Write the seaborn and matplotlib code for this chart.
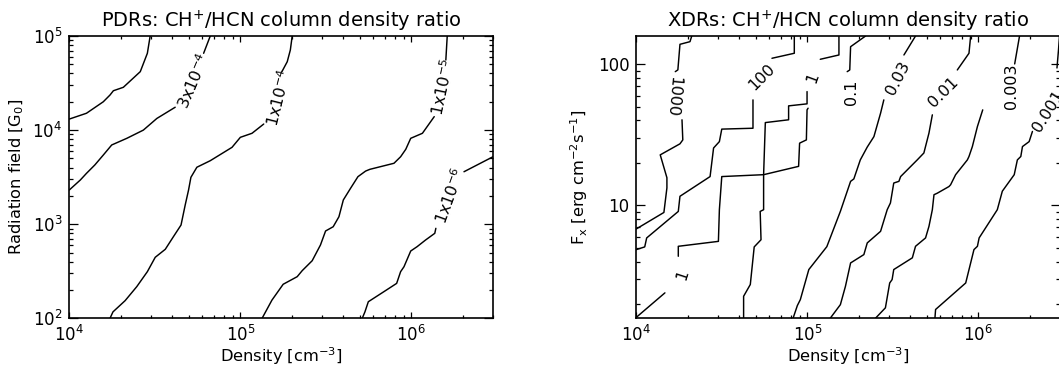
import numpy as np
import pandas as pd
import matplotlib
matplotlib.use("Agg")
import matplotlib.pyplot as plt
import matplotlib.ticker as mticker
import seaborn as sns

# ---------------- PDR panel: contour lines ----------------
# density [cm^-3] and radiation field [G0]; each level may be split by its label
pdr_top_n = [2.97e4, 2.86e4, 2.60e4, 2.07e4, 1.81e4, 1.73e4, 1.58e4, 1.26e4, 1.0e4]
pdr_top_g = [1e5, 6.55e4, 4.18e4, 2.85e4, 2.62e4, 2.36e4, 2.00e4, 1.51e4, 1.31e4]

pdr_3e4_lo_n = [1.0e4, 1.16e4, 1.26e4, 1.41e4, 1.58e4, 1.77e4, 2.17e4, 2.71e4, 3.25e4, 4.16e4]
pdr_3e4_lo_g = [2.31e3, 2.95e3, 3.47e3, 4.26e3, 5.43e3, 6.95e3, 8.18e3, 1.0e4, 1.33e4, 1.75e4]
pdr_3e4_hi_n = [6.10e4, 6.67e4]
pdr_3e4_hi_g = [6.55e4, 1e5]

pdr_1e4_lo_n = [1.73e4, 1.80e4, 2.12e4, 2.48e4, 2.86e4, 3.18e4, 3.64e4, 4.06e4, 4.50e4,
                4.76e4, 4.98e4, 5.14e4, 5.57e4, 6.67e4, 8.94e4, 1.0e5, 1.17e5, 1.37e5]
pdr_1e4_lo_g = [100, 117, 154, 217, 313, 445, 541, 736, 980,
                1.60e3, 2.31e3, 3.15e3, 4.03e3, 4.73e3, 6.56e3, 8.38e3, 9.25e3, 1.16e4]
pdr_1e4_hi_n = [1.75e5, 1.88e5, 1.96e5, 2.01e5]
pdr_1e4_hi_g = [4.18e4, 5.33e4, 7.10e4, 1e5]

pdr_1e5_lo_n = [1.34e5, 1.53e5, 1.78e5, 2.15e5, 2.30e5, 2.63e5, 2.94e5, 3.15e5, 3.49e5, 3.77e5,
                4.0e5, 4.41e5, 4.87e5, 5.40e5, 5.72e5, 7.91e5, 8.65e5, 9.27e5, 9.91e5, 1.16e6, 1.36e6]
pdr_1e5_lo_g = [100, 156, 230, 277, 321, 409, 601, 847, 940, 1.20e3,
                1.81e3, 2.41e3, 3.20e3, 3.67e3, 3.83e3, 4.44e3, 5.21e3, 6.25e3, 8.18e3, 9.25e3, 1.39e4]
pdr_1e5_hi_n = [1.59e6, 1.62e6]
pdr_1e5_hi_g = [5.56e4, 1e5]

pdr_1e6_lo_n = [5.16e5, 5.35e5, 5.60e5, 6.91e5, 8.20e5, 8.65e5, 9.05e5, 9.91e5, 1.08e6, 1.21e6, 1.37e6, 1.39e6]
pdr_1e6_lo_g = [100, 117, 150, 192, 235, 313, 353, 519, 577, 679, 800, 904]
pdr_1e6_hi_n = [2.03e6, 3.0e6]
pdr_1e6_hi_g = [3.61e3, 5.21e3]

pdr_label_text = ["3x10$^{-4}$", "1x10$^{-4}$", "1x10$^{-5}$", "1x10$^{-6}$"]
pdr_label_n = [5.31e4, 1.68e5, 1.52e6, 1.68e6]
pdr_label_g = [3.32e4, 2.22e4, 2.87e4, 2.0e3]
pdr_label_rot = [67, 76, 78, 70]

# ---------------- XDR panel: density [cm^-3] and F_X [erg cm^-2 s^-1] ----------------
xdr_1000_a_n = [2.11e4, 2.06e4, 1.80e4, 1.75e4, 1.69e4]
xdr_1000_a_f = [158.5, 144.5, 138.4, 91.2, 88.6]
xdr_1000_b_n = [1.85e4, 1.87e4, 1.80e4, 1.38e4, 1.51e4, 1.51e4, 1.45e4, 1.0e4]
xdr_1000_b_f = [40.4, 29.1, 27.3, 22.8, 15.7, 13.3, 8.91, 6.81]

xdr_100_a_n = [8.39e4, 8.39e4, 6.21e4]
xdr_100_a_f = [158.5, 119.6, 110.2]
xdr_100_b_n = [4.81e4, 4.81e4, 3.16e4, 3.06e4, 2.83e4, 2.70e4, 1.80e4, 1.76e4, 1.15e4, 1.12e4, 1.0e4]
xdr_100_b_f = [55.9, 35.2, 34.7, 28.3, 25.5, 16.0, 11.6, 9.06, 5.88, 5.08, 4.86]

xdr_1_a_n = [1.53e5, 1.53e5, 1.19e5]
xdr_1_a_f = [158.5, 116.3, 108.4]
xdr_1_b_n = [9.96e4, 9.96e4, 7.77e4, 7.77e4, 5.68e4, 5.55e4, 5.55e4, 5.30e4, 5.36e4, 4.89e4, 4.64e4, 4.24e4, 4.24e4]
xdr_1_b_f = [64.0, 52.4, 50.7, 40.4, 38.6, 16.5, 9.32, 9.06, 5.71, 5.08, 2.75, 2.27, 1.585]
xdr_1_c_n = [1.01e5, 9.96e4, 9.87e4, 9.01e4, 8.89e4, 5.55e4, 3.16e4, 3.06e4, 3.02e4, 1.76e4, 1.76e4]
xdr_1_c_f = [48.8, 47.5, 29.1, 27.6, 18.9, 16.5, 16.0, 9.32, 5.56, 5.13, 4.36]
xdr_1_d_n = [1.47e4, 1.0e4]
xdr_1_d_f = [2.40, 1.61]

xdr_01_a_n = [2.19e5, 1.79e5, 1.77e5, 1.71e5]
xdr_01_a_f = [158.5, 133.1, 91.1, 88.6]

xdr_003_a_n = [4.29e5, 3.67e5]
xdr_003_a_f = [158.5, 116.3]
xdr_003_b_n = [2.80e5, 2.68e5, 2.45e5, 2.24e5, 2.04e5, 1.87e5, 1.79e5, 1.56e5, 1.30e5, 1.02e5, 9.10e4, 8.74e4, 8.25e4]
xdr_003_b_f = [55.9, 45.0, 30.7, 25.9, 21.0, 15.4, 14.8, 9.07, 5.10, 3.51, 2.15, 1.95, 1.585]

xdr_001_a_n = [9.01e5, 8.81e5, 7.53e5]
xdr_001_a_f = [158.5, 119.6, 91.1]
xdr_001_b_n = [5.38e5, 5.14e5, 4.80e5, 4.39e5, 3.51e5, 3.43e5, 3.20e5, 3.06e5, 2.93e5, 2.68e5,
               2.24e5, 2.14e5, 1.79e5, 1.67e5, 1.56e5, 1.36e5]
xdr_001_b_f = [43.8, 32.5, 23.5, 21.0, 16.0, 14.8, 14.4, 10.4, 9.32, 6.55,
               5.42, 4.48, 3.91, 2.67, 1.98, 1.585]

xdr_0003_a_n = [1.74e6, 1.63e6]
xdr_0003_a_f = [158.5, 100.5]
xdr_0003_b_n = [1.06e6, 9.87e5, 9.22e5, 8.81e5, 8.62e5, 7.36e5, 6.88e5, 6.73e5, 5.75e5, 5.50e5,
                5.38e5, 5.14e5, 4.91e5, 4.29e5, 4.11e5, 3.20e5, 3.13e5, 3.03e5, 2.86e5, 2.50e5]
xdr_0003_b_f = [47.5, 36.2, 26.1, 22.2, 21.0, 16.5, 14.0, 13.6, 12.2, 11.9,
                9.32, 7.10, 5.88, 5.13, 4.25, 3.51, 2.98, 2.82, 1.88, 1.585]

xdr_0001_a_n = [2.98e6, 2.94e6, 2.88e6]
xdr_0001_a_f = [158.5, 126.2, 94.1]
xdr_0001_b_n = [2.07e6, 1.98e6, 1.81e6, 1.77e6, 1.69e6, 1.62e6, 1.38e6, 1.29e6, 1.01e6, 9.87e5,
                9.42e5, 8.43e5, 5.62e5, 5.57e5]
xdr_0001_b_f = [33.4, 28.3, 26.1, 22.2, 21.0, 16.5, 12.6, 9.32, 5.88, 5.13,
                4.86, 2.82, 1.83, 1.585]

xdr_label_text = ["1000", "100", "1", "0.1", "0.03", "0.01", "0.003", "0.001", "1"]
xdr_label_n = [1.64e4, 5.43e4, 1.08e5, 1.80e5, 3.37e5, 6.26e5, 1.57e6, 2.57e6, 1.87e4]
xdr_label_f = [58.7, 81.3, 80.0, 63.7, 80.0, 63.2, 69.7, 46.5, 3.21]
xdr_label_rot = [-95, 45, 70, 90, 63, 45, 90, 58, 72]

xticks_major = [1e4, 1e5, 1e6]
pdr_yticks_major = [1e2, 1e3, 1e4, 1e5]
xdr_yticks_major = [10, 100]


def pieces_frame(pieces, xname, yname):
    frames = []
    for i, (xs, ys) in enumerate(pieces):
        frames.append(pd.DataFrame({xname: xs, yname: ys, "piece": i}))
    return pd.concat(frames, ignore_index=True)


pdr_df = pieces_frame([
    (pdr_top_n, pdr_top_g),
    (pdr_3e4_lo_n, pdr_3e4_lo_g), (pdr_3e4_hi_n, pdr_3e4_hi_g),
    (pdr_1e4_lo_n, pdr_1e4_lo_g), (pdr_1e4_hi_n, pdr_1e4_hi_g),
    (pdr_1e5_lo_n, pdr_1e5_lo_g), (pdr_1e5_hi_n, pdr_1e5_hi_g),
    (pdr_1e6_lo_n, pdr_1e6_lo_g), (pdr_1e6_hi_n, pdr_1e6_hi_g),
], "density", "field")

xdr_df = pieces_frame([
    (xdr_1000_a_n, xdr_1000_a_f), (xdr_1000_b_n, xdr_1000_b_f),
    (xdr_100_a_n, xdr_100_a_f), (xdr_100_b_n, xdr_100_b_f),
    (xdr_1_a_n, xdr_1_a_f), (xdr_1_b_n, xdr_1_b_f), (xdr_1_c_n, xdr_1_c_f), (xdr_1_d_n, xdr_1_d_f),
    (xdr_01_a_n, xdr_01_a_f),
    (xdr_003_a_n, xdr_003_a_f), (xdr_003_b_n, xdr_003_b_f),
    (xdr_001_a_n, xdr_001_a_f), (xdr_001_b_n, xdr_001_b_f),
    (xdr_0003_a_n, xdr_0003_a_f), (xdr_0003_b_n, xdr_0003_b_f),
    (xdr_0001_a_n, xdr_0001_a_f), (xdr_0001_b_n, xdr_0001_b_f),
], "density", "flux")

# ---------------- style ----------------
sns.set_theme(style="ticks", rc={
    "axes.edgecolor": "black", "axes.labelcolor": "black", "text.color": "black",
    "xtick.color": "black", "ytick.color": "black", "axes.linewidth": 1.2,
})
plt.rcParams["font.family"] = ["DejaVu Sans"]
plt.rcParams["mathtext.fontset"] = "dejavusans"

W, H = 1059, 372
fig = plt.figure(figsize=(W / 100, H / 100), dpi=100)
ax1 = fig.add_axes([69.3 / W, (H - 318.3) / H, 423.7 / W, 282.3 / H])
ax2 = fig.add_axes([636.3 / W, (H - 318.3) / H, 423.7 / W, 282.3 / H])

TICK_FS = 12
LABEL_FS = 11.7
TITLE_FS = 14
CLAB_FS = 11.5


def log_sup(v, pos):
    return r"10$^{%d}$" % int(round(np.log10(v)))


def style_axes(ax, ylim, yticks, yfmt):
    ax.set_xscale("log")
    ax.set_yscale("log")
    ax.set_xlim(1e4, 3e6)
    ax.set_ylim(*ylim)
    ax.xaxis.set_major_locator(mticker.FixedLocator(xticks_major))
    ax.xaxis.set_minor_locator(mticker.LogLocator(base=10, subs=np.arange(2, 10), numticks=20))
    ax.yaxis.set_major_locator(mticker.FixedLocator(yticks))
    ax.yaxis.set_minor_locator(mticker.LogLocator(base=10, subs=np.arange(2, 10), numticks=20))
    ax.xaxis.set_major_formatter(mticker.FuncFormatter(log_sup))
    ax.yaxis.set_major_formatter(yfmt)
    ax.xaxis.set_minor_formatter(mticker.NullFormatter())
    ax.yaxis.set_minor_formatter(mticker.NullFormatter())
    ax.tick_params(which="both", direction="in", top=True, right=True, width=0.9,
                   labelsize=TICK_FS)
    ax.tick_params(axis="x", which="major", length=4.2, pad=5)
    ax.tick_params(axis="x", which="minor", length=2.1)
    ax.tick_params(axis="y", which="major", length=6.2, pad=5)
    ax.tick_params(axis="y", which="minor", length=3.1)
    for s in ax.spines.values():
        s.set_linewidth(1.2)
        s.set_color("black")


# ---------------- PDR panel ----------------
style_axes(ax1, (1e2, 1e5), pdr_yticks_major, mticker.FuncFormatter(log_sup))
sns.lineplot(data=pdr_df, x="density", y="field", units="piece", estimator=None, sort=False,
             color="black", linewidth=1.05, ax=ax1, legend=False)
for t, n, g, r in zip(pdr_label_text, pdr_label_n, pdr_label_g, pdr_label_rot):
    ax1.text(n, g, t, rotation=r, ha="center", va="center", rotation_mode="anchor",
             fontsize=CLAB_FS)
ax1.set_title("PDRs: CH$^{+}$/HCN column density ratio", fontsize=TITLE_FS, pad=6.5)
ax1.set_xlabel("Density [cm$^{-3}$]", fontsize=LABEL_FS)
ax1.set_ylabel("Radiation field [G$_0$]", fontsize=LABEL_FS)
ax1.xaxis.set_label_coords(0.5, -0.095)
ax1.yaxis.set_label_coords(-0.102, 0.5)

# ---------------- XDR panel ----------------
style_axes(ax2, (10 ** 0.2, 10 ** 2.2), xdr_yticks_major,
           mticker.FuncFormatter(lambda v, p: "%d" % round(v)))
sns.lineplot(data=xdr_df, x="density", y="flux", units="piece", estimator=None, sort=False,
             color="black", linewidth=1.05, ax=ax2, legend=False)
for t, n, f, r in zip(xdr_label_text, xdr_label_n, xdr_label_f, xdr_label_rot):
    ax2.text(n, f, t, rotation=r, ha="center", va="center", rotation_mode="anchor",
             fontsize=CLAB_FS, clip_on=False)
ax2.set_title("XDRs: CH$^{+}$/HCN column density ratio", fontsize=TITLE_FS, pad=6.5)
ax2.set_xlabel("Density [cm$^{-3}$]", fontsize=LABEL_FS)
ax2.set_ylabel("F$_\\mathrm{x}$ [erg cm$^{-2}$s$^{-1}$]", fontsize=LABEL_FS)
ax2.xaxis.set_label_coords(0.5, -0.095)
ax2.yaxis.set_label_coords(-0.109, 0.5)

fig.savefig("out.png", dpi=100, facecolor="white")
